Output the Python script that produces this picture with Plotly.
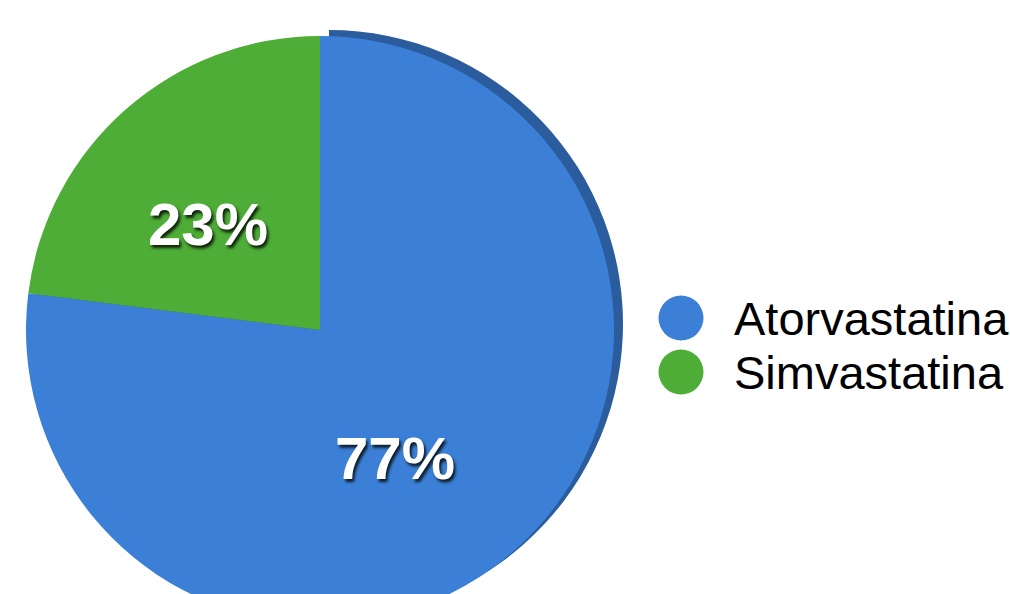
import plotly.graph_objects as go

# ---- data ----
labels = ["Atorvastatina", "Simvastatina"]
values = [77, 23]
colors = ["#3b80d6", "#4dad36"]
rim_colors = ["#2b5d9e", "rgba(0,0,0,0)"]

# ---- layout constants (pixels) ----
W, H = 1010, 640
cx, cy, r = 320, 330, 294
rim_dx, rim_dy = 9, -6
label_pos = [(395, 458), (208, 224)]  # pixel centres of the percentage labels


def dom(cxp, cyp, rp):
    return dict(x=[(cxp - rp) / W, (cxp + rp) / W],
                y=[1 - (cyp + rp) / H, 1 - (cyp - rp) / H])


fig = go.Figure()

# 3D-like rim behind the pie
fig.add_trace(go.Pie(
    labels=labels, values=values, sort=False, direction="clockwise", rotation=0,
    marker=dict(colors=rim_colors, line=dict(width=0)),
    textinfo="none", hoverinfo="skip", showlegend=False,
    domain=dom(cx + rim_dx, cy + rim_dy, r),
))

# main pie
fig.add_trace(go.Pie(
    labels=labels, values=values, sort=False, direction="clockwise", rotation=0,
    marker=dict(colors=colors, line=dict(width=0)),
    textinfo="none", showlegend=False,
    domain=dom(cx, cy, r),
))

total = sum(values)
shapes = []
annotations = []

# percentage labels
for v, (px, py) in zip(values, label_pos):
    annotations.append(dict(
        x=px / W, y=1 - py / H, xref="paper", yref="paper",
        text=f"{round(v / total * 100)}%", showarrow=False,
        xanchor="center", yanchor="middle",
        font=dict(family="Liberation Sans", size=60, color="white", weight="bold",
                  shadow="2px 3px 3px rgba(0,0,0,0.8)"),
    ))

# legend drawn as text + circle swatches
leg_x_text = 732
leg_x_dot = 681
leg_y = [318, 372]
dot_d = 45
for lab, col, yy in zip(labels, colors, leg_y):
    annotations.append(dict(
        x=leg_x_text / W, y=1 - yy / H, xref="paper", yref="paper",
        text=lab, showarrow=False, xanchor="left", yanchor="middle",
        font=dict(family="Liberation Sans", size=47, color="black"),
    ))
    shapes.append(dict(
        type="circle", xref="paper", yref="paper",
        xsizemode="pixel", ysizemode="pixel",
        xanchor=leg_x_dot / W, yanchor=1 - yy / H,
        x0=-dot_d / 2, x1=dot_d / 2, y0=-dot_d / 2, y1=dot_d / 2,
        fillcolor=col, line=dict(width=0),
    ))

fig.update_layout(
    width=W, height=H,
    margin=dict(l=0, r=0, t=0, b=0),
    paper_bgcolor="white", plot_bgcolor="white",
    shapes=shapes, annotations=annotations,
)

fig.write_html("out.html",
               post_script="document.body.style.margin='0';document.body.style.overflow='hidden';document.documentElement.style.overflow='hidden';")
